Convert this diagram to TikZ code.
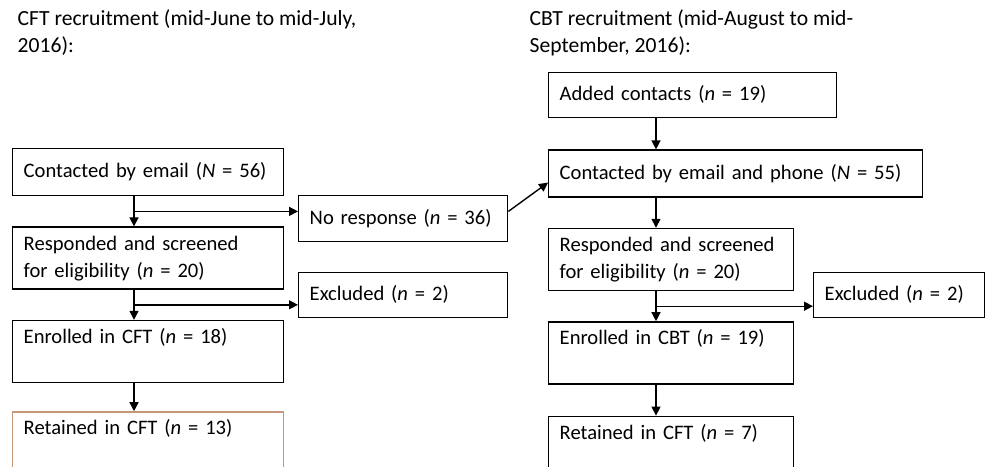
\documentclass[tikz,border=0pt]{standalone}
\usepackage{fontspec}
\setmainfont{Carlito}
\usepackage{tikz}
\usetikzlibrary{arrows.meta, positioning, calc}
\definecolor{tanline}{RGB}{200,150,120}

\begin{document}
\begin{tikzpicture}[x=0.5pt, y=-0.5pt, ->, >={Triangle[length=4.5pt, width=4.5pt]}, line width=0.7pt]
		\tikzstyle{box}=[rectangle, draw, anchor=north west, align=left, inner xsep=5.5pt, inner ysep=2pt, font=\fontsize{10.3}{13.5}\selectfont, execute at begin node=\strut, execute at end node=\strut]
		\tikzstyle{title}=[anchor=north west, align=left, inner sep=0pt, font=\fontsize{10.8}{13.5}\selectfont, execute at begin node=\strut, execute at end node=\strut]

		\useasboundingbox (0,0) rectangle (985,466);
		\clip (0,0) rectangle (985,466);

		% CFT side
		\node[title] (tcft) at (17,9) {CFT recruitment (mid-June to mid-July,\\2016):};
		\node[box, text width=124.5pt, minimum height=23.5pt] (c1) at (12,148) {Contacted by email (\textit{N} = 56)};
		\node[box, text width=124.5pt, below=15pt of c1.south west, anchor=north west] (c2) {Responded and screened\\for eligibility (\textit{n} = 20)};
		\node[box, text width=124.5pt, below=15pt of c2.south west, anchor=north west] (c3) {Enrolled in CFT (\textit{n} = 18)\\};
		\node[box, draw=tanline, text width=124.5pt, below=14pt of c3.south west, anchor=north west] (c4) {Retained in CFT (\textit{n} = 13)\\};

		\node[box, text width=93.5pt, minimum height=23pt] (noresp) at (298,195) {No response (\textit{n} = 36)};
		\node[box, text width=93.5pt, minimum height=22.5pt] (exclL) at (298,272) {Excluded (\textit{n} = 2)};

		% CBT side
		\node[title] (tcbt) at (529,9) {CBT recruitment (mid-August to mid-\\September, 2016):};
		\node[box, text width=133pt, minimum height=22.5pt] (added) at (548,72) {Added contacts (\textit{n} = 19)};
		\node[box, text width=176pt, minimum height=23.5pt, below=15.5pt of added.south west, anchor=north west] (c5) {Contacted by email and phone (\textit{N} = 55)};
		\node[box, text width=111.5pt, below=15pt of c5.south west, anchor=north west] (r2) {Responded and screened\\for eligibility (\textit{n} = 20)};
		\node[box, text width=111.5pt, below=15pt of r2.south west, anchor=north west] (r3) {Enrolled in CBT (\textit{n} = 19)\\};
		\node[box, text width=111.5pt, below=15.5pt of r3.south west, anchor=north west] (r4) {Retained in CFT (\textit{n} = 7)\\};

		\node[box, text width=74.5pt, minimum height=22.5pt] (exclR) at (813,272) {Excluded (\textit{n} = 2)};

		\coordinate (lx) at (134,0);
		\coordinate (rx) at (656,0);
		\coordinate (b1) at ($(c1.south -| lx)!0.5!(c2.north -| lx)$);
		\coordinate (b2) at ($(c2.south -| lx)!0.5!(c3.north -| lx)$);
		\coordinate (b3) at ($(r2.south -| rx)!0.5!(r3.north -| rx)$);

		\path
		(c1.south -| lx) edge (c2.north -| lx)
		(c2.south -| lx) edge (c3.north -| lx)
		(c3.south -| lx) edge (c4.north -| lx)
		(b1) edge (b1 -| noresp.west)
		(b2) edge (b2 -| exclL.west)
		(b1 -| noresp.east) edge ($(c5.west)+(0,9)$)

		(added.south -| rx) edge (c5.north -| rx)
		(c5.south -| rx) edge (r2.north -| rx)
		(r2.south -| rx) edge (r3.north -| rx)
		(r3.south -| rx) edge (r4.north -| rx)
		(b3) edge (b3 -| exclR.west);
	\end{tikzpicture}
\end{document}
